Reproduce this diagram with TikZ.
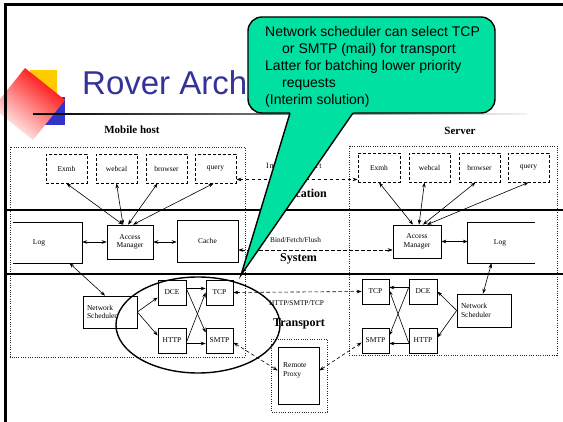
\documentclass[tikz,border=0pt]{standalone}
\usepackage{fontspec}
\setmainfont{Liberation Serif}
\newfontfamily\sansf{Liberation Sans}
\newfontfamily\trackedserif[LetterSpace=10]{Liberation Serif}
\usetikzlibrary{arrows.meta,calc}
\definecolor{calloutgreen}{RGB}{0,224,160}
\definecolor{titleblue}{RGB}{51,51,153}
\definecolor{logoyellow}{RGB}{255,204,0}
\definecolor{logoblue}{RGB}{51,51,204}
\begin{document}
\begin{tikzpicture}[x=1pt,y=-1pt,
  comp/.style={draw, line width=0.7pt, inner sep=0pt, align=center,
    font=\fontsize{7.5}{8.5}\selectfont},
  appbox/.style={comp, line width=0.9pt, dash pattern=on 3pt off 2pt},
  bare/.style={inner sep=0pt, minimum width=0pt, minimum height=0pt},
  region/.style={draw=black!85, line width=0.9pt, dash pattern=on 0.8pt off 1.5pt},
  layerline/.style={line width=2pt},
  link/.style={line width=0.6pt, -{Stealth[length=5pt,width=3.6pt]}},
  biline/.style={line width=0.6pt, {Stealth[length=5pt,width=3.6pt]}-{Stealth[length=5pt,width=3.6pt]}},
  dlink/.style={biline, dash pattern=on 3.5pt off 2.5pt},
  tag/.style={inner sep=0pt, font=\fontsize{7.3}{8.5}\selectfont},
  layer/.style={inner sep=0pt, font=\fontsize{12}{14}\selectfont\bfseries},
  host/.style={inner sep=0pt, anchor=base, font=\fontsize{11}{13}\selectfont\bfseries},
  note/.style={inner sep=0pt, anchor=base west, font=\sansf\fontsize{14}{17}\selectfont},
]
\useasboundingbox (0,0) rectangle (563,422);
\fill[white] (0,0) rectangle (563,422);

% ---- logo ----
\fill[logoyellow] (30,70) rectangle (57,97);
\fill[logoblue] (40,97) rectangle (65,125);
\shade[top color=red, middle color=red!22!white, bottom color=white, shading angle=-38.7]
  (25,68) -- (65,100) -- (33,140) -- (-7,108) -- cycle;

% ---- title and rule ----
\node[anchor=base west, inner sep=0pt, text=titleblue, font=\sansf\fontsize{33}{36}\selectfont]
  (title) at (82,95) {Rover Arch};
\shade[left color=black, right color=black!5] (33,113.2) rectangle (527,114.8);

% ---- slide frame ----
\draw[line width=3pt, line join=miter] (5,422) -- (5,4.5) -- (563,4.5);

% ---- host regions and layer separators ----
\draw[region] (10,147) rectangle (245,357);
\draw[region] (349,146) rectangle (557,355);
\draw[region] (271,339) rectangle (327,412);
\draw[layerline] (5,210) -- (563,210);
\draw[layerline] (5,274) -- (563,274);

\node[host] (mobilelbl) at (132,134) {Mobile host};
\node[host] (serverlbl) at (460,135) {Server};
\node[layer, anchor=base east] (applbl) at (327,198) {Application};
\node[layer, anchor=base west] (syslbl) at (280,262) {System};
\node[layer, anchor=base west] (trlbl) at (273,327) {Transport};

% ---- mobile host ----
\node[appbox, minimum width=41pt, minimum height=29pt] (exmh) at (66.5,168.5) {Exmh};
\node[appbox, minimum width=41pt, minimum height=29pt] (webcal) at (116.5,168.5) {webcal};
\node[appbox, minimum width=41pt, minimum height=29pt] (browser) at (166.5,168.5) {browser};
\node[appbox, minimum width=41pt, minimum height=29pt] (query) at (215.5,168.5) {query};

\node[comp, minimum width=46pt, minimum height=34pt] (amL) at (130,242) {Access\\Manager};
\node[bare, minimum width=69pt, minimum height=40pt] (logL) at (47.5,243) {};
\draw[line width=0.7pt] (logL.north west) -- (logL.north east) -- (logL.south east) -- (logL.south west);
\node[tag, font=\fontsize{7.5}{8.5}\selectfont] (logLtxt) at (39,243) {Log};
\node[comp, minimum width=61pt, minimum height=42pt] (cache) at (207.5,241) {Cache};

\node[comp, minimum width=54pt, minimum height=32pt, align=left, text width=46pt] (nsL) at (110,312) {Network\\Scheduler};
\node[comp, minimum width=28pt, minimum height=25pt] (dceL) at (172,292.5) {DCE};
\node[comp, minimum width=27pt, minimum height=25pt] (tcpL) at (219.5,292.5) {TCP};
\node[comp, minimum width=28pt, minimum height=25pt] (httpL) at (172,340.5) {HTTP};
\node[comp, minimum width=27pt, minimum height=25pt] (smtpL) at (219.5,340.5) {SMTP};

\draw[biline] ([xshift=-7pt]amL.north) -- (exmh.south);
\draw[biline] ([xshift=-7pt]amL.north) -- (webcal.south);
\draw[biline] ([xshift=-2pt]amL.north) -- ([xshift=-9pt]browser.south);
\draw[biline] ([xshift=3pt]amL.north) -- ([xshift=-2pt]query.south);
\draw[biline] (amL.west -| logL.east) -- (amL.west);
\draw[biline] (amL.east) -- (amL.east -| cache.west);
\draw[biline] ([xshift=22pt]logL.south) -- ([xshift=-5pt]nsL.north);

\draw[link] (nsL.east) -- ([yshift=-5pt]dceL.west);
\draw[link] (nsL.east) -- ([yshift=5pt]httpL.west);
\draw[link] ([yshift=4pt]dceL.east) -- ([yshift=4pt]tcpL.west);
\draw[link] ([yshift=4pt]dceL.east) -- ([yshift=8pt]smtpL.west);
\draw[link] ([yshift=-2pt]httpL.east) -- (tcpL.west);
\draw[link] ([yshift=-3pt]httpL.east) -- ([yshift=-3pt]smtpL.west);

\draw[line width=1.4pt] (198,325) ellipse [x radius=82, y radius=48];

% ---- server ----
\node[appbox, minimum width=42pt, minimum height=29pt] (sexmh) at (379,167.5) {Exmh};
\node[appbox, minimum width=41pt, minimum height=29pt] (swebcal) at (429.5,167.5) {webcal};
\node[appbox, minimum width=41pt, minimum height=29pt] (sbrowser) at (479.5,167.5) {browser};
\node[appbox, minimum width=41pt, minimum height=29pt] (squery) at (528.5,167.5) {query};

\node[comp, minimum width=48pt, minimum height=33pt] (sAM) at (417,241.5) {Access\\Manager};
\node[bare, minimum width=67pt, minimum height=40pt] (sLog) at (501.5,243) {};
\draw[line width=0.7pt] (sLog.north east) -- (sLog.north west) -- (sLog.south west) -- (sLog.south east);
\node[tag, font=\fontsize{7.5}{8.5}\selectfont] (sLogtxt) at (500,243) {Log};

\node[comp, minimum width=54pt, minimum height=33pt, align=left, text width=46pt] (sNS) at (484,310.5) {Network\\Scheduler};
\node[comp, minimum width=27pt, minimum height=25pt] (sTCP) at (375.5,291.5) {TCP};
\node[comp, minimum width=28pt, minimum height=25pt] (sDCE) at (423,291.5) {DCE};
\node[comp, minimum width=27pt, minimum height=25pt] (sSMTP) at (375.5,340.5) {SMTP};
\node[comp, minimum width=28pt, minimum height=25pt] (sHTTP) at (423,340.5) {HTTP};

\draw[biline] ([xshift=-4pt]sAM.north) -- (sexmh.south);
\draw[biline] ([xshift=2pt]sAM.north) -- ([xshift=-5pt]swebcal.south);
\draw[biline] ([xshift=6pt]sAM.north) -- ([xshift=-4pt]sbrowser.south);
\draw[biline] ([xshift=10pt]sAM.north) -- (squery.south);
\draw[biline] (sAM.east) -- (sAM.east -| sLog.west);
\draw[biline] ([xshift=-10pt]sLog.south) -- ([xshift=-1pt]sNS.north);

\draw[link] (sNS.west) -- (sDCE.east);
\draw[link] (sNS.west) -- ([yshift=3pt]sHTTP.east);
\draw[link] ([yshift=4pt]sDCE.west) -- ([yshift=4pt]sTCP.east);
\draw[link] ([yshift=4pt]sDCE.west) -- ([yshift=5pt]sSMTP.east);
\draw[link] ([yshift=-2pt]sHTTP.west) -- ([yshift=1pt]sTCP.east);
\draw[link] ([yshift=-3pt]sHTTP.west) -- ([yshift=-3pt]sSMTP.east);

% ---- remote proxy ----
\node[comp, minimum width=41pt, minimum height=57pt] (proxy) at (298.5,375.5) {};
\node[tag, anchor=north west, align=left, font=\fontsize{7.5}{9.5}\selectfont] (proxytxt) at (283,362) {Remote\\Proxy};

% ---- connections between hosts ----
\draw[dlink] ([yshift=4pt]query.south east) -- ([yshift=3pt]sexmh.south west);
\draw[dlink] ([yshift=-9pt]cache.east) -- ([yshift=-8.5pt]sAM.west);
\draw[dlink] (tcpL.east) -- (sTCP.west);
\draw[dlink] ([yshift=-2pt]smtpL.east) -- ([yshift=5pt]proxy.west);
\draw[dlink] ([yshift=5pt]proxy.east) -- ([yshift=-2pt]sSMTP.west);

\node[tag, anchor=base west, font=\fontsize{8}{9}\selectfont] (ietag) at (266,169) {\trackedserif Import/Export};
\node[tag, anchor=base west] (bfftag) at (270,243) {Bind/Fetch/Flush};
\node[tag, anchor=base west] (hsttag) at (269,306) {HTTP/SMTP/TCP};

% ---- callout ----
\node[draw, line width=1.4pt, fill=calloutgreen, rounded corners=14pt,
  minimum width=247pt, minimum height=96pt, inner sep=0pt] (callout) at (371.5,65) {};
\coordinate (pl) at (290,113);
\coordinate (pr) at (353,113);
\coordinate (tip) at (241,275);
\fill[calloutgreen] ($(pl)!-0.025!(tip)$) -- ($(pr)!-0.025!(tip)$) -- (tip) -- cycle;
\draw[line width=1.4pt, line join=miter] (pl) -- (tip) -- (pr);

\node[note] (n1) at (265,37) {Network scheduler can select TCP};
\node[note] (n2) at (282,54) {or SMTP (mail) for transport};
\node[note] (n3) at (265,71) {Latter for batching lower priority};
\node[note] (n4) at (282,88) {requests};
\node[note] (n5) at (265,105) {(Interim solution)};
\end{tikzpicture}
\end{document}
